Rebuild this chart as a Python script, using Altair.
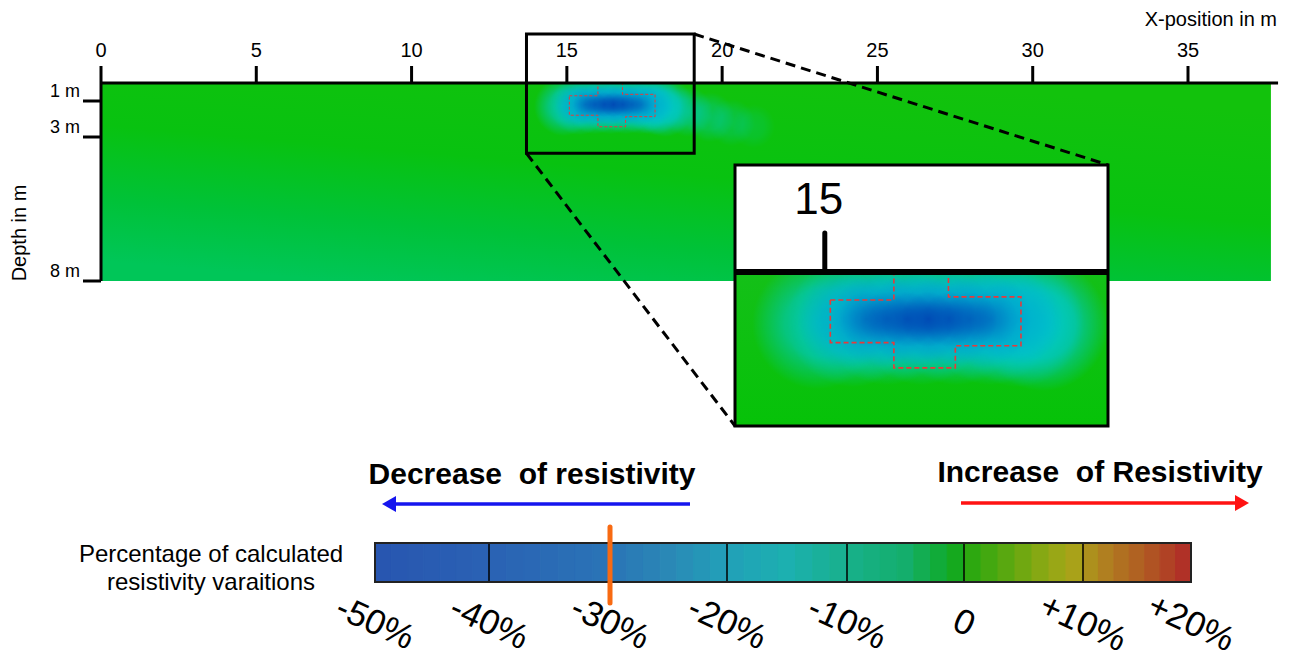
import altair as alt
import pandas as pd

# ---------------- values ----------------
X_TICKS = [0, 5, 10, 15, 20, 25, 30, 35]
DEPTH_TICKS = [1, 3, 8]
DEPTH_LABELS = ["1 m", "3 m", "8 m"]
SECTION_X = [0.0, 37.67]
SECTION_DEPTH = [0.0, 8.0]
AXIS_X_END = 37.9

# low-resistivity anomaly: cyan halo, blue mid zone, dark blue core (x in m, depth in m)
HALO_X = [14.9, 15.4, 15.9, 16.4, 16.9, 17.4, 17.8, 18.15, 18.9, 19.6, 20.3, 21.0]
HALO_DEPTH = [1.3, 1.25, 1.2, 1.2, 1.2, 1.2, 1.25, 1.35, 1.6, 1.9, 2.2, 2.4]
HALO_R = [0.95, 0.95, 0.95, 0.95, 0.95, 0.95, 0.95, 0.95, 0.8, 0.8, 0.75, 0.7]
HALO_A = [0.75, 0.9, 0.95, 0.95, 0.95, 0.95, 0.9, 0.9, 0.5, 0.38, 0.28, 0.18]

MID_X = [15.3, 15.8, 16.3, 16.8, 17.3, 17.8]
MID_DEPTH = [1.2, 1.2, 1.2, 1.2, 1.2, 1.2]
MID_R = [0.7, 0.7, 0.7, 0.7, 0.7, 0.65]
MID_A = [0.45, 0.6, 0.7, 0.65, 0.55, 0.4]

CORE_X = [15.6, 15.9, 16.2, 16.5, 16.8, 17.1, 17.4]
CORE_DEPTH = [1.2, 1.2, 1.2, 1.2, 1.2, 1.2, 1.2]
CORE_R = [0.4, 0.4, 0.4, 0.4, 0.4, 0.4, 0.4]
CORE_A = [0.45, 0.65, 0.85, 0.95, 0.8, 0.6, 0.4]

# red dashed outline of the buried target
POLY_X = [15.08, 16.0, 16.0, 16.79, 16.79, 17.84, 17.84, 16.89, 16.89, 16.0, 16.0, 15.08, 15.08]
POLY_DEPTH = [0.71, 0.71, 0.0, 0.0, 0.63, 0.63, 1.87, 1.87, 2.43, 2.43, 1.79, 1.79, 0.71]

ZOOM_X = [13.7, 19.1]
ZOOM_DEPTH = [-2.72, 3.566]
INSET_TICKS = [15]

CB_TICKS = [-50, -40, -30, -20, -10, 0, 10, 20]
CB_LABELS = ["-50%", "-40%", "-30%", "-20%", "-10%", "0", "+10%", "+20%"]
CB_COLOR_VALUES = [-50, -40, -30, -25, -20, -15, -10, -5, -1, 0, 3, 6, 9, 12, 16, 20]
CB_COLORS = ["#2855b0", "#2a62b4", "#2a74b6", "#2a88b6", "#22a0b8", "#1cb0b0",
             "#18b08c", "#14ae6c", "#10aa24", "#22a810", "#50a810", "#80a812",
             "#a8a618", "#b08020", "#b05822", "#b02828"]
CB_STEPS_PER_SEGMENT = 7
CB_MARKER = [-30]

# ---------------- layout (pixels inside the plot area) ----------------
W, H = 1281, 653
FONT = "Liberation Sans"
MAIN_X_DOMAIN, MAIN_X_RANGE = [0, 35], [93, 1180]
DEPTH_DOMAIN = [0, 3, 8]
MAIN_Y_RANGE = [75, 129, 273]
INSET_X_RANGE = [727, 1100]
INSET_Y_RANGE = [264.1, 382.3, 697.4]
CB_X_RANGE = [367, 481, 602, 719, 839, 956, 1075, 1183]


def pw(v, dom, rng):
    for i in range(len(dom) - 1):
        if v <= dom[i + 1] or i == len(dom) - 2:
            t = (v - dom[i]) / (dom[i + 1] - dom[i])
            return rng[i] + t * (rng[i + 1] - rng[i])


def sc(domain, rng):
    return alt.Scale(domain=domain, range=rng, nice=False, zero=False)


MX = sc(MAIN_X_DOMAIN, MAIN_X_RANGE)
MY = sc(DEPTH_DOMAIN, MAIN_Y_RANGE)
IX = sc(ZOOM_X, INSET_X_RANGE)
IY = sc(DEPTH_DOMAIN, INSET_Y_RANGE)
CBX = sc(CB_TICKS, CB_X_RANGE)
PX_M_MAIN = (MAIN_X_RANGE[1] - MAIN_X_RANGE[0]) / (MAIN_X_DOMAIN[1] - MAIN_X_DOMAIN[0])
PX_M_INSET = (INSET_X_RANGE[1] - INSET_X_RANGE[0]) / (ZOOM_X[1] - ZOOM_X[0])


def radial(rgb, stops):
    return {"gradient": "radial",
            "stops": [{"offset": o, "color": f"rgba({rgb},{a})"} for o, a in stops]}


HALO_GRAD = radial("0,200,205", [(0, 1), (0.5, 0.78), (0.8, 0.32), (1, 0)])
MID_GRAD = radial("0,130,210", [(0, 0.9), (0.5, 0.55), (1, 0)])
CORE_GRAD = radial("0,72,180", [(0, 1), (0.35, 0.7), (0.7, 0.25), (1, 0)])
SECTION_GRAD = {"gradient": "linear", "x1": 0.7, "y1": 0, "x2": 0.2, "y2": 1, "stops": [
    {"offset": 0, "color": "#12c20c"}, {"offset": 0.45, "color": "#08c210"},
    {"offset": 0.75, "color": "#00c238"}, {"offset": 1, "color": "#00c658"}]}
INSET_GRAD = {"gradient": "linear", "x1": 0, "y1": 0, "x2": 0, "y2": 1, "stops": [
    {"offset": 0, "color": "#14c018"}, {"offset": 1, "color": "#06c208"}]}

one = pd.DataFrame({"k": [0]})
section = pd.DataFrame({"x0": [SECTION_X[0]], "x1": [SECTION_X[1]],
                        "d0": [SECTION_DEPTH[0]], "d1": [SECTION_DEPTH[1]]})
halo = pd.DataFrame({"x": HALO_X, "d": HALO_DEPTH, "r": HALO_R, "a": HALO_A})
mid = pd.DataFrame({"x": MID_X, "d": MID_DEPTH, "r": MID_R, "a": MID_A})
core = pd.DataFrame({"x": CORE_X, "d": CORE_DEPTH, "r": CORE_R, "a": CORE_A})
poly = pd.DataFrame({"x": POLY_X, "d": POLY_DEPTH, "i": list(range(len(POLY_X)))})
zoom = pd.DataFrame({"x0": [ZOOM_X[0]], "x1": [ZOOM_X[1]], "d0": [ZOOM_DEPTH[0]], "d1": [ZOOM_DEPTH[1]]})
xt = pd.DataFrame({"x": X_TICKS, "lab": [str(v) for v in X_TICKS]})
dt = pd.DataFrame({"d": DEPTH_TICKS, "lab": DEPTH_LABELS})
axis_top = pd.DataFrame({"x0": [0.0], "x1": [AXIS_X_END], "d": [0.0]})
axis_left = pd.DataFrame({"x": [0.0], "d0": [SECTION_DEPTH[0]], "d1": [SECTION_DEPTH[1]]})
cover = pd.DataFrame({"d0": [-2.0], "d1": [0.0]})
it = pd.DataFrame({"x": INSET_TICKS, "lab": [str(v) for v in INSET_TICKS]})

rows = []
for lo_t, hi_t in zip(CB_TICKS[:-1], CB_TICKS[1:]):
    step = (hi_t - lo_t) / CB_STEPS_PER_SEGMENT
    for k in range(CB_STEPS_PER_SEGMENT):
        a = lo_t + k * step
        rows.append({"a": a, "b": a + step, "m": a + step / 2})
bands = pd.DataFrame(rows)
cbt = pd.DataFrame({"v": CB_TICKS, "lab": CB_LABELS})
cb_frame = pd.DataFrame({"a": [CB_TICKS[0]], "b": [CB_TICKS[-1]]})
cb_div = pd.DataFrame({"v": CB_TICKS[1:-1]})
marker = pd.DataFrame({"v": CB_MARKER})

layers = []


def blobs(df, grad, xs, ys, pxm, inset=False):
    ch = alt.Chart(df).mark_point(shape="square", filled=True, fill=grad, strokeWidth=0).encode(
        x=alt.X("x:Q", scale=xs, axis=None),
        y=alt.Y("d:Q", scale=ys, axis=None),
        size=alt.Size("r:Q", scale=alt.Scale(type="pow", exponent=2, domain=[0, 1],
                                             range=[0, (2 * pxm) ** 2]), legend=None),
        opacity=alt.Opacity("a:Q", scale=None),
    )
    if inset:
        ch = ch.transform_filter(
            f"datum.x - datum.r >= {ZOOM_X[0]} && datum.x + datum.r <= {ZOOM_X[1] + 0.001}")
    return ch


def rect(df, xs, ys, **mk):
    return alt.Chart(df).mark_rect(**mk).encode(
        x=alt.X("x0:Q", scale=xs, axis=None), x2="x1:Q",
        y=alt.Y("d0:Q", scale=ys, axis=None), y2="d1:Q")


# ---- main section ----
layers.append(rect(section, MX, MY, fill=SECTION_GRAD, strokeWidth=0))
layers.append(blobs(halo, HALO_GRAD, MX, MY, PX_M_MAIN))
layers.append(blobs(mid, MID_GRAD, MX, MY, PX_M_MAIN))
layers.append(blobs(core, CORE_GRAD, MX, MY, PX_M_MAIN))
layers.append(alt.Chart(cover).mark_rect(fill="white").encode(
    x=alt.value(0), x2=alt.value(W),
    y=alt.Y("d0:Q", scale=MY, axis=None), y2="d1:Q"))
layers.append(alt.Chart(poly).mark_line(color="#e83a3a", strokeWidth=1, strokeDash=[3, 2]).encode(
    x=alt.X("x:Q", scale=MX, axis=None), y=alt.Y("d:Q", scale=MY, axis=None), order="i:Q"))

# axes of the section
layers.append(alt.Chart(axis_top).mark_rule(color="black", strokeWidth=3).encode(
    x=alt.X("x0:Q", scale=MX, axis=None), x2="x1:Q", y=alt.Y("d:Q", scale=MY, axis=None)))
layers.append(alt.Chart(axis_left).mark_rule(color="black", strokeWidth=3).encode(
    x=alt.X("x:Q", scale=MX, axis=None), y=alt.Y("d0:Q", scale=MY, axis=None), y2="d1:Q"))
layers.append(alt.Chart(xt).mark_rule(color="black", strokeWidth=3).encode(
    x=alt.X("x:Q", scale=MX, axis=None), y=alt.value(58), y2=alt.value(75)))
layers.append(alt.Chart(xt).mark_text(font=FONT, fontSize=20, baseline="alphabetic", color="black").encode(
    x=alt.X("x:Q", scale=MX, axis=None), y=alt.value(49), text="lab:N"))
layers.append(alt.Chart(dt).mark_rule(color="black", strokeWidth=3).encode(
    y=alt.Y("d:Q", scale=MY, axis=None), x=alt.value(75), x2=alt.value(93)))
layers.append(alt.Chart(dt).mark_text(font=FONT, fontSize=18, align="right", baseline="alphabetic",
                                      dy=-4, color="black").encode(
    y=alt.Y("d:Q", scale=MY, axis=None), x=alt.value(72), text="lab:N"))
layers.append(alt.Chart(one).mark_text(font=FONT, fontSize=20, align="right", baseline="alphabetic",
                                       text="X-position in m", color="black").encode(
    x=alt.value(1269), y=alt.value(18)))
layers.append(alt.Chart(one).mark_text(font=FONT, fontSize=20, angle=270, align="center",
                                       baseline="middle", text="Depth in m", color="black").encode(
    x=alt.value(12), y=alt.value(225)))

# zoom window and connectors
layers.append(rect(zoom, MX, MY, fillOpacity=0, stroke="black", strokeWidth=3))
c1 = (pw(ZOOM_X[1], MAIN_X_DOMAIN, MAIN_X_RANGE), pw(ZOOM_DEPTH[0], DEPTH_DOMAIN, MAIN_Y_RANGE),
      pw(ZOOM_X[1], ZOOM_X, INSET_X_RANGE), pw(ZOOM_DEPTH[0], DEPTH_DOMAIN, INSET_Y_RANGE))
c2 = (pw(ZOOM_X[0], MAIN_X_DOMAIN, MAIN_X_RANGE), pw(ZOOM_DEPTH[1], DEPTH_DOMAIN, MAIN_Y_RANGE),
      pw(ZOOM_X[0], ZOOM_X, INSET_X_RANGE), pw(ZOOM_DEPTH[1], DEPTH_DOMAIN, INSET_Y_RANGE))
for c in (c1, c2):
    layers.append(alt.Chart(one).mark_rule(color="black", strokeWidth=3, strokeDash=[10, 6]).encode(
        x=alt.value(c[0]), y=alt.value(c[1]), x2=alt.value(c[2]), y2=alt.value(c[3])))

# ---- inset (magnified view of the zoom window) ----
layers.append(rect(zoom, IX, IY, fill="white", strokeWidth=0))
inset_base = alt.Chart(section).transform_calculate(
    cx0=f"max(datum.x0, {ZOOM_X[0]})", cx1=f"min(datum.x1, {ZOOM_X[1]})",
    cd0=f"max(datum.d0, 0)", cd1=f"min(datum.d1, {ZOOM_DEPTH[1]})",
).mark_rect(fill=INSET_GRAD, strokeWidth=0).encode(
    x=alt.X("cx0:Q", scale=IX, axis=None), x2="cx1:Q",
    y=alt.Y("cd0:Q", scale=IY, axis=None), y2="cd1:Q")
layers.append(inset_base)
layers.append(blobs(halo, HALO_GRAD, IX, IY, PX_M_INSET, inset=True))
layers.append(blobs(mid, MID_GRAD, IX, IY, PX_M_INSET, inset=True))
layers.append(blobs(core, CORE_GRAD, IX, IY, PX_M_INSET, inset=True))
layers.append(alt.Chart(zoom).transform_calculate(z="0").mark_rect(fill="white", strokeWidth=0).encode(
    x=alt.X("x0:Q", scale=IX, axis=None), x2="x1:Q",
    y=alt.Y("d0:Q", scale=IY, axis=None), y2="z:Q"))
layers.append(alt.Chart(poly).mark_line(color="#e83a3a", strokeWidth=1.6, strokeDash=[5, 3]).encode(
    x=alt.X("x:Q", scale=IX, axis=None), y=alt.Y("d:Q", scale=IY, axis=None), order="i:Q"))
layers.append(alt.Chart(zoom).transform_calculate(z="0").mark_rule(color="black", strokeWidth=6).encode(
    x=alt.X("x0:Q", scale=IX, axis=None), x2="x1:Q", y=alt.Y("z:Q", scale=IY, axis=None)))
layers.append(alt.Chart(it).mark_rule(color="black", strokeWidth=5, strokeCap="round").encode(
    x=alt.X("x:Q", scale=IX, axis=None), y=alt.value(225), y2=alt.value(262)))
layers.append(alt.Chart(it).mark_text(font=FONT, fontSize=44, baseline="alphabetic", dx=-6,
                                      color="black").encode(
    x=alt.X("x:Q", scale=IX, axis=None), y=alt.value(206), text="lab:N"))
layers.append(rect(zoom, IX, IY, fillOpacity=0, stroke="black", strokeWidth=3))

# ---- colour bar ----
CB_Y0, CB_Y1 = 535, 574
cb_color = alt.Scale(domain=CB_COLOR_VALUES, range=CB_COLORS, interpolate="rgb")
layers.append(alt.Chart(bands).mark_rect(strokeWidth=1).encode(
    x=alt.X("a:Q", scale=CBX, axis=None), x2="b:Q",
    y=alt.value(CB_Y0), y2=alt.value(CB_Y1),
    color=alt.Color("m:Q", scale=cb_color, legend=None),
    stroke=alt.Stroke("m:Q", scale=cb_color, legend=None)))
layers.append(alt.Chart(cb_div).mark_rule(color="black", strokeWidth=1.5).encode(
    x=alt.X("v:Q", scale=CBX, axis=None), y=alt.value(CB_Y0), y2=alt.value(CB_Y1)))
layers.append(alt.Chart(cb_frame).mark_rect(fillOpacity=0, stroke="#222222", strokeWidth=2).encode(
    x=alt.X("a:Q", scale=CBX, axis=None), x2="b:Q", y=alt.value(CB_Y0), y2=alt.value(CB_Y1)))
layers.append(alt.Chart(marker).mark_rule(color="#f86a12", strokeWidth=5, strokeCap="round").encode(
    x=alt.X("v:Q", scale=CBX, axis=None), y=alt.value(519), y2=alt.value(595)))
layers.append(alt.Chart(cbt).mark_text(font=FONT, fontSize=35, angle=25, align="center",
                                       baseline="middle", color="black").encode(
    x=alt.X("v:Q", scale=CBX, axis=None), y=alt.value(615), text="lab:N"))

# arrows and captions
layers.append(alt.Chart(one).mark_rule(color="#1515ee", strokeWidth=3.5).encode(
    x=alt.value(384), x2=alt.value(682), y=alt.value(496)))
layers.append(alt.Chart(one).mark_point(shape="triangle-left", filled=True, size=260, color="#1515ee",
                                        opacity=1).encode(x=alt.value(381), y=alt.value(496)))
layers.append(alt.Chart(one).mark_rule(color="#ff1212", strokeWidth=3.5).encode(
    x=alt.value(953), x2=alt.value(1232), y=alt.value(495)))
layers.append(alt.Chart(one).mark_point(shape="triangle-right", filled=True, size=260, color="#ff1212",
                                        opacity=1).encode(x=alt.value(1234), y=alt.value(495)))
layers.append(alt.Chart(one).mark_text(font=FONT, fontSize=30, fontWeight="bold", align="center",
                                       baseline="alphabetic", text="Decrease\u00a0 of resistivity",
                                       color="black").encode(x=alt.value(524), y=alt.value(476)))
layers.append(alt.Chart(one).mark_text(font=FONT, fontSize=30, fontWeight="bold", align="center",
                                       baseline="alphabetic", text="Increase\u00a0 of Resistivity",
                                       color="black").encode(x=alt.value(1092), y=alt.value(474)))
layers.append(alt.Chart(one).mark_text(font=FONT, fontSize=24, align="center", baseline="alphabetic",
                                       lineHeight=28,
                                       text=["Percentage of calculated", "resistivity varaitions"],
                                       color="black").encode(x=alt.value(203), y=alt.value(554)))

chart = alt.layer(*layers).properties(
    width=W, height=H, padding=0, autosize="none"
).resolve_scale(
    x="independent", y="independent", size="independent", color="independent",
    opacity="independent", stroke="independent"
).configure_view(stroke=None)

chart.save("out.html", embed_options={"renderer": "svg", "actions": False})
